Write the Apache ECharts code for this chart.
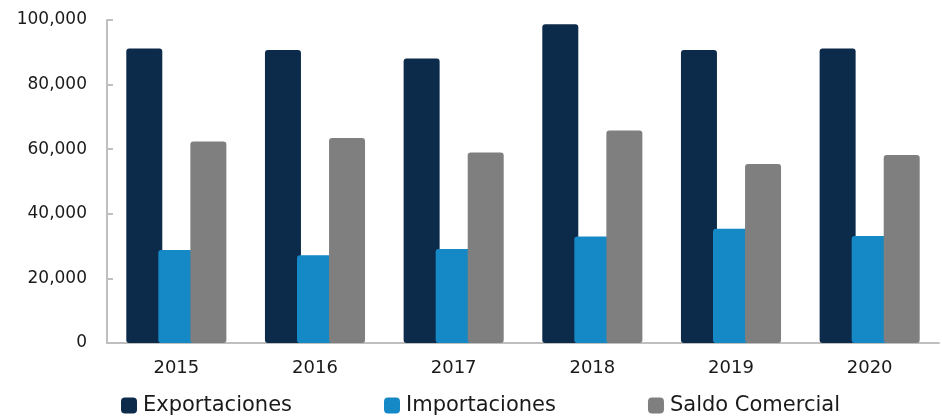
<!DOCTYPE html>
<html>
<head>
<meta charset="utf-8">
<script src="https://cdn.jsdelivr.net/npm/echarts@6/dist/echarts.min.js"></script>
<style>
  html, body { margin: 0; padding: 0; background: #fff; }
  #chart { width: 942px; height: 416px; }
</style>
</head>
<body>
<div id="chart"></div>
<script>
  // valores
  var years = ['2015', '2016', '2017', '2018', '2019', '2020']
  var exportaciones = [91200, 90700, 88100, 98700, 90700, 91200]
  var importaciones = [28800, 27200, 29100, 33000, 35400, 33100]
  var saldoComercial = [62400, 63500, 59000, 65800, 55400, 58200]

  var font = 'DejaVu Sans'
  var chart = echarts.init(document.getElementById('chart'))

  function barSeries(name, data, color) {
    return {
      name: name,
      type: 'bar',
      data: data,
      barWidth: 36,
      barGap: '-11%',
      itemStyle: {
        color: color,
        borderRadius: [3, 3, 3, 3]
      },
      animation: false
    }
  }

  chart.setOption({
    grid: {
      left: 107,
      right: 3,
      top: 20,
      bottom: 73
    },
    legend: {
      left: 116,
      top: 390,
      itemWidth: 16,
      itemHeight: 16,
      itemGap: 92,
      icon: 'roundRect',
      textStyle: {
        fontFamily: font,
        fontSize: 21,
        color: '#1a1a1a',
        padding: [0, 0, 0, 1]
      },
      data: ['Exportaciones', 'Importaciones', 'Saldo Comercial']
    },
    xAxis: {
      type: 'category',
      data: years,
      axisLine: {
        lineStyle: {color: '#BFBFBF', width: 2}
      },
      axisTick: {show: false},
      axisLabel: {
        fontFamily: font,
        fontSize: 18,
        color: '#1a1a1a',
        margin: 16
      }
    },
    yAxis: {
      type: 'value',
      min: 0,
      max: 100000,
      interval: 20000,
      splitLine: {show: false},
      axisLine: {
        show: true,
        lineStyle: {color: '#BFBFBF', width: 2}
      },
      axisTick: {
        show: true,
        inside: true,
        length: 6,
        lineStyle: {color: '#BFBFBF', width: 2}
      },
      axisLabel: {
        fontFamily: font,
        fontSize: 17,
        color: '#1a1a1a',
        margin: 20,
        formatter: function (v) {
          return v.toLocaleString('en-US')
        }
      }
    },
    series: [
      barSeries('Exportaciones', exportaciones, '#0C2A4A'),
      barSeries('Importaciones', importaciones, '#1589C6'),
      barSeries('Saldo Comercial', saldoComercial, '#7F7F7F')
    ]
  })
</script>
</body>
</html>
